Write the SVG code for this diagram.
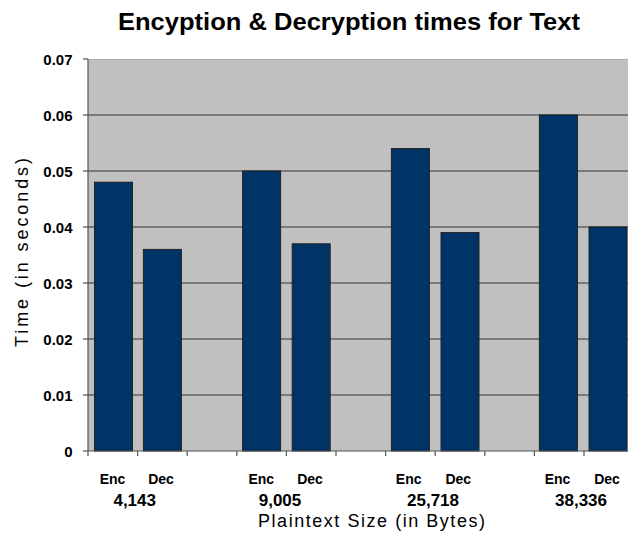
<svg xmlns="http://www.w3.org/2000/svg" width="628" height="537" viewBox="0 0 628 537">
<style>
.grid{stroke:#333;stroke-width:1.2}
.axis{stroke:#555;stroke-width:1.2}
.bar{fill:#003366;stroke:#222;stroke-width:1}
.tl{font-family:"Liberation Sans",Arial,sans-serif;font-weight:bold;font-size:15px;fill:#000;text-anchor:end}
.cl{font-family:"Liberation Sans",Arial,sans-serif;font-weight:bold;font-size:14px;fill:#000;text-anchor:middle}
.nl{font-family:"Liberation Sans",Arial,sans-serif;font-weight:bold;font-size:17px;fill:#000;text-anchor:middle}
.at{font-family:"Liberation Sans",Arial,sans-serif;font-size:18px;fill:#000;text-anchor:middle}
</style>
<rect width="628" height="537" fill="#fff"/>
<g id="plot">
<rect x="88" y="59" width="540" height="392" fill="#c0c0c0"/>
<line x1="88" y1="59.5" x2="628" y2="59.5" stroke="#aaa" stroke-width="1"/>
<g id="gridlines">
<line class="grid" x1="83" y1="115" x2="628" y2="115"/>
<line class="grid" x1="83" y1="171" x2="628" y2="171"/>
<line class="grid" x1="83" y1="227" x2="628" y2="227"/>
<line class="grid" x1="83" y1="283" x2="628" y2="283"/>
<line class="grid" x1="83" y1="339" x2="628" y2="339"/>
<line class="grid" x1="83" y1="395" x2="628" y2="395"/>
<line class="axis" x1="83" y1="59" x2="88" y2="59"/>
<line class="axis" x1="83" y1="451" x2="88" y2="451"/>
</g>
</g>
<g id="bars">
<rect id="enc1" class="bar" x="94.5" y="182.2" width="38" height="268.8"/>
<rect id="dec1" class="bar" x="143.4" y="249.4" width="38" height="201.6"/>
<rect id="enc2" class="bar" x="242.6" y="171" width="38" height="280"/>
<rect id="dec2" class="bar" x="292.2" y="243.8" width="38" height="207.2"/>
<rect id="enc3" class="bar" x="391.4" y="148.6" width="38" height="302.4"/>
<rect id="dec3" class="bar" x="441" y="232.6" width="38" height="218.4"/>
<rect id="enc4" class="bar" x="539.4" y="115" width="38" height="336"/>
<rect id="dec4" class="bar" x="589" y="227" width="38" height="224"/>
</g>
<g id="axes">
<line class="axis" x1="88" y1="59" x2="88" y2="451"/>
<line class="axis" x1="88" y1="451" x2="628" y2="451"/>
<g id="xticks">
<line class="axis" x1="88" y1="451" x2="88" y2="456"/>
<line class="axis" x1="137.6" y1="451" x2="137.6" y2="456"/>
<line class="axis" x1="187.2" y1="451" x2="187.2" y2="456"/>
<line class="axis" x1="236.8" y1="451" x2="236.8" y2="456"/>
<line class="axis" x1="286.4" y1="451" x2="286.4" y2="456"/>
<line class="axis" x1="336" y1="451" x2="336" y2="456"/>
<line class="axis" x1="385.6" y1="451" x2="385.6" y2="456"/>
<line class="axis" x1="435.2" y1="451" x2="435.2" y2="456"/>
<line class="axis" x1="484.8" y1="451" x2="484.8" y2="456"/>
<line class="axis" x1="534.4" y1="451" x2="534.4" y2="456"/>
<line class="axis" x1="584" y1="451" x2="584" y2="456"/>
</g>
</g>
<g id="ylabels">
<text class="tl" x="72.5" y="64.5">0.07</text>
<text class="tl" x="72.5" y="120.5">0.06</text>
<text class="tl" x="72.5" y="176.5">0.05</text>
<text class="tl" x="72.5" y="232.5">0.04</text>
<text class="tl" x="72.5" y="288.5">0.03</text>
<text class="tl" x="72.5" y="344.5">0.02</text>
<text class="tl" x="72.5" y="400.5">0.01</text>
<text class="tl" x="72.5" y="456.5">0</text>
</g>
<g id="xlabels">
<text class="cl" x="112.5" y="484">Enc</text>
<text class="cl" x="161" y="484">Dec</text>
<text class="cl" x="261.3" y="484">Enc</text>
<text class="cl" x="310" y="484">Dec</text>
<text class="cl" x="408.7" y="484">Enc</text>
<text class="cl" x="458.3" y="484">Dec</text>
<text class="cl" x="557.5" y="484">Enc</text>
<text class="cl" x="607" y="484">Dec</text>
<text class="nl" x="134.7" y="506">4,143</text>
<text class="nl" x="280" y="506">9,005</text>
<text class="nl" x="433" y="506">25,718</text>
<text class="nl" x="581" y="506">38,336</text>
</g>
<g id="titles">
<text x="349" y="30" font-family="'Liberation Sans',Arial,sans-serif" font-weight="bold" font-size="24" text-anchor="middle" textLength="462" lengthAdjust="spacingAndGlyphs">Encyption &amp; Decryption times for Text</text>
<text class="at" x="371.5" y="527" textLength="227" lengthAdjust="spacing">Plaintext Size (in Bytes)</text>
<text class="at" transform="translate(28 252.5) rotate(-90)" x="0" y="0" font-size="20" textLength="189" lengthAdjust="spacing">Time (in seconds)</text>
</g>
</svg>
